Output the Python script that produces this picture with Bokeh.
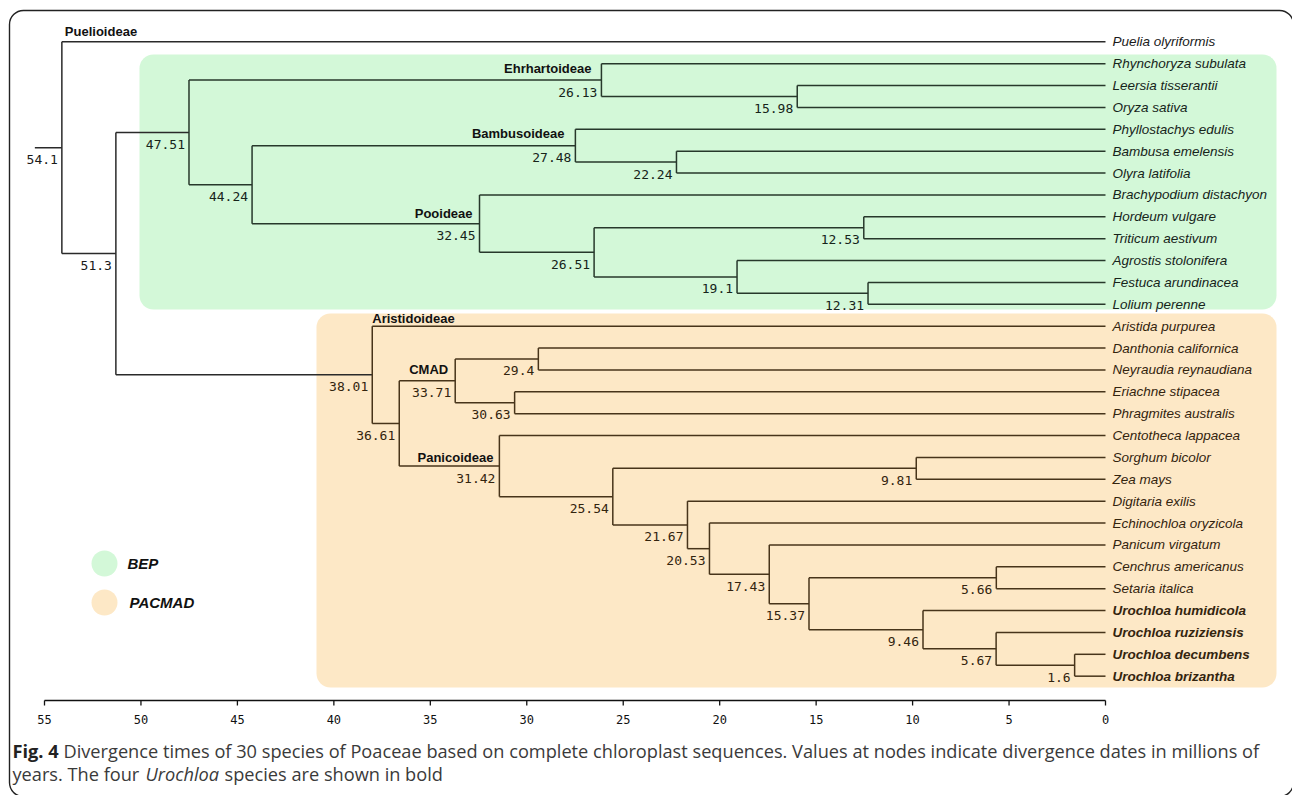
from bokeh.plotting import figure
from bokeh.models import Range1d, ColumnDataSource
from bokeh.core.properties import value
from bokeh.embed import file_html
from bokeh.resources import INLINE

# ---------------- data ----------------
species = [
    "Puelia olyriformis", "Rhynchoryza subulata", "Leersia tisserantii", "Oryza sativa",
    "Phyllostachys edulis", "Bambusa emelensis", "Olyra latifolia", "Brachypodium distachyon",
    "Hordeum vulgare", "Triticum aestivum", "Agrostis stolonifera", "Festuca arundinacea",
    "Lolium perenne", "Aristida purpurea", "Danthonia californica", "Neyraudia reynaudiana",
    "Eriachne stipacea", "Phragmites australis", "Centotheca lappacea", "Sorghum bicolor",
    "Zea mays", "Digitaria exilis", "Echinochloa oryzicola", "Panicum virgatum",
    "Cenchrus americanus", "Setaria italica", "Urochloa humidicola", "Urochloa ruziziensis",
    "Urochloa decumbens", "Urochloa brizantha",
]
bold_species = ["Urochloa humidicola", "Urochloa ruziziensis", "Urochloa decumbens", "Urochloa brizantha"]

node_ids = ["root", "n51", "BEP", "Ehr", "Ory", "n44", "Bam", "Bam2", "Poo", "Poo2", "Trit",
            "Poeae", "FesLol", "PACMAD", "n36", "CMAD", "Dan", "Eri", "Pan", "n25", "Sor",
            "n21", "n20", "n17", "n15", "Cen", "n9", "n5", "n1"]
node_ages = [54.1, 51.3, 47.51, 26.13, 15.98, 44.24, 27.48, 22.24, 32.45, 26.51, 12.53,
             19.1, 12.31, 38.01, 36.61, 33.71, 29.4, 30.63, 31.42, 25.54, 9.81,
             21.67, 20.53, 17.43, 15.37, 5.66, 9.46, 5.67, 1.6]
node_children = [
    ["Puelia olyriformis", "n51"],
    ["BEP", "PACMAD"],
    ["Ehr", "n44"],
    ["Rhynchoryza subulata", "Ory"],
    ["Leersia tisserantii", "Oryza sativa"],
    ["Bam", "Poo"],
    ["Phyllostachys edulis", "Bam2"],
    ["Bambusa emelensis", "Olyra latifolia"],
    ["Brachypodium distachyon", "Poo2"],
    ["Trit", "Poeae"],
    ["Hordeum vulgare", "Triticum aestivum"],
    ["Agrostis stolonifera", "FesLol"],
    ["Festuca arundinacea", "Lolium perenne"],
    ["Aristida purpurea", "n36"],
    ["CMAD", "Pan"],
    ["Dan", "Eri"],
    ["Danthonia californica", "Neyraudia reynaudiana"],
    ["Eriachne stipacea", "Phragmites australis"],
    ["Centotheca lappacea", "n25"],
    ["Sor", "n21"],
    ["Sorghum bicolor", "Zea mays"],
    ["Digitaria exilis", "n20"],
    ["Echinochloa oryzicola", "n17"],
    ["Panicum virgatum", "n15"],
    ["Cen", "n9"],
    ["Cenchrus americanus", "Setaria italica"],
    ["Urochloa humidicola", "n5"],
    ["Urochloa ruziziensis", "n1"],
    ["Urochloa decumbens", "Urochloa brizantha"],
]

clade_names = ["Puelioideae", "Ehrhartoideae", "Bambusoideae", "Pooideae", "Aristidoideae", "CMAD", "Panicoideae"]
clade_anchor = ["Puelia olyriformis", "Ehr", "Bam", "Poo", "Aristida purpurea", "CMAD", "Pan"]

group_names = ["BEP", "PACMAD"]
group_nodes = ["BEP", "PACMAD"]

tick_values = [55, 50, 45, 40, 35, 30, 25, 20, 15, 10, 5, 0]
tick_labels = [str(t) for t in tick_values]

caption_bold = "Fig. 4"
caption_line1 = "Divergence times of 30 species of Poaceae based on complete chloroplast sequences. Values at nodes indicate divergence dates in millions of"
caption_line2a = "years. The four"
caption_line2_italic = "Urochloa"
caption_line2b = "species are shown in bold"

# ---------------- styles ----------------
GROUP_FILL = {"BEP": "#d3f8d8", "PACMAD": "#fde8c6"}
GROUP_LINE = {"BEP": "#27382b", "PACMAD": "#47341a", None: "#2a2a2a"}
GROUP_TEXT = {"BEP": "#16241a", "PACMAD": "#33240e", None: "#1a1a1a"}
SANS = value("Liberation Sans")
MONO = value("DejaVu Sans Mono")
CAP = value("Open Sans")
CAP_SIZE = "18.2px"

# pixel -> data helpers (layout only)
S = 19.2909      # px per Myr
RS = 21.875      # px per row
def rx(px):
    return 55 - (px - 44) / S
def ry(py):
    return (py - 41.3) / RS

W, H = 1292, 795
p = figure(width=W, height=H, output_backend="svg", toolbar_location=None,
           x_range=Range1d(rx(0), rx(W)), y_range=Range1d(ry(H), ry(0)),
           min_border=0, background_fill_color="white", border_fill_color="white")
p.axis.visible = False
p.grid.visible = False
p.outline_line_color = None

# ---------------- tree layout ----------------
age = dict(zip(node_ids, node_ages))
kids = dict(zip(node_ids, node_children))
for s in species:
    age[s] = 0.0
ypos = {s: float(i) for i, s in enumerate(species)}
parent = {}
for n, ch in kids.items():
    for c in ch:
        parent[c] = n

def get_y(n):
    if n in ypos:
        return ypos[n]
    ys = [get_y(c) for c in kids[n]]
    ypos[n] = sum(ys) / len(ys)
    return ypos[n]
get_y("root")

group_of = {}
def mark(n, g):
    group_of[n] = g
    for c in kids.get(n, []):
        mark(c, g)
for g, gn in zip(group_names, group_nodes):
    mark(gn, g)

# ---------------- background boxes ----------------
box_px = {"BEP": (139, 1276, 54, 309), "PACMAD": (316, 1276, 313, 687)}
for g in group_names:
    l, r, t, b = box_px[g]
    p.quad(left=rx(l), right=rx(r), top=ry(t), bottom=ry(b), fill_color=GROUP_FILL[g],
           line_color=None, border_radius=14)

# outer frame
p.quad(left=rx(9), right=rx(1293), top=ry(10), bottom=ry(796), fill_color=None,
       line_color="#222222", line_width=1.4, border_radius=14)

# ---------------- branches ----------------
x0s, x1s, y0s, y1s, cols = [], [], [], [], []
for n in node_ids:
    g = group_of.get(n)
    ch = kids[n]
    cy = [ypos[c] for c in ch]
    x0s.append(age[n]); x1s.append(age[n]); y0s.append(min(cy)); y1s.append(max(cy)); cols.append(GROUP_LINE[g])
    for c in ch:
        x0s.append(age[n]); x1s.append(age[c]); y0s.append(ypos[c]); y1s.append(ypos[c]); cols.append(GROUP_LINE[g])
# root stem
x0s.append(age["root"] + 1.4); x1s.append(age["root"]); y0s.append(ypos["root"]); y1s.append(ypos["root"]); cols.append(GROUP_LINE[None])
p.segment(x0=x0s, x1=x1s, y0=y0s, y1=y1s, line_color=cols, line_width=1.5)

# ---------------- tip labels ----------------
tip_src = ColumnDataSource(dict(
    x=[0.0] * len(species), y=[ypos[s] for s in species], text=species,
    color=[GROUP_TEXT[group_of.get(s)] for s in species],
    style=["bold italic" if s in bold_species else "italic" for s in species]))
p.text(x="x", y="y", text="text", source=tip_src, text_color="color", text_font_style="style",
       text_font=SANS, text_font_size="13.5px", text_align="left", text_baseline="middle", x_offset=7)

# ---------------- node age labels ----------------
nl_src = ColumnDataSource(dict(
    x=[age[n] for n in node_ids], y=[ypos[n] for n in node_ids],
    text=[("%g" % age[n]) for n in node_ids],
    color=[GROUP_TEXT[group_of.get(n)] for n in node_ids]))
p.text(x="x", y="y", text="text", source=nl_src, text_color="color", text_font=MONO,
       text_font_size="13px", text_align="right", text_baseline="middle", x_offset=-4, y_offset=12)

# ---------------- clade labels ----------------
clade_off = {"Puelioideae": (3, -10), "Ehrhartoideae": (-10, -12), "Bambusoideae": (-11, -12),
             "Pooideae": (-7, -10), "Aristidoideae": (0, -8), "CMAD": (-7, -11), "Panicoideae": (-6, -9)}
for name, anc in zip(clade_names, clade_anchor):
    is_tip = anc in species
    cx = age[parent[anc]] if is_tip else age[anc]
    dx, dy = clade_off[name]
    p.text(x=[cx], y=[ypos[anc]], text=[name], text_font=SANS, text_font_style="bold",
           text_font_size="13px", text_color="#111111", text_align="left" if is_tip else "right",
           text_baseline="middle", x_offset=dx, y_offset=dy)

# ---------------- legend ----------------
leg_y = [ry(563), ry(602)]
p.scatter(x=[rx(104)] * 2, y=leg_y, size=26, marker="circle",
          fill_color=[GROUP_FILL[g] for g in group_names], line_color=None)
p.text(x=[rx(127), rx(129)], y=leg_y, text=group_names, text_font=SANS, text_font_style="bold italic",
       text_font_size="15px", text_color="#111111", text_align="left", text_baseline="middle")

# ---------------- axis ----------------
ay = ry(700)
p.segment(x0=[tick_values[0]], x1=[tick_values[-1]], y0=[ay], y1=[ay], line_color="#111111", line_width=1.3)
p.segment(x0=tick_values, x1=tick_values, y0=[ay] * len(tick_values), y1=[ry(705)] * len(tick_values),
          line_color="#111111", line_width=1.3)
p.text(x=tick_values, y=[ry(719)] * len(tick_values), text=tick_labels, text_font=MONO,
       text_font_size="12px", text_color="#111111", text_align="center", text_baseline="middle")

# ---------------- caption ----------------
c1, c2 = ry(750), ry(773)
p.text(x=[rx(12)], y=[c1], text=[caption_bold], text_font=CAP, text_font_style="bold",
       text_font_size=CAP_SIZE, text_color="#222222", text_align="left", text_baseline="middle")
p.text(x=[rx(63)], y=[c1], text=[caption_line1], text_font=CAP,
       text_font_size=CAP_SIZE, text_color="#3a3a3a", text_align="left", text_baseline="middle")
p.text(x=[rx(12)], y=[c2], text=[caption_line2a], text_font=CAP,
       text_font_size=CAP_SIZE, text_color="#3a3a3a", text_align="left", text_baseline="middle")
p.text(x=[rx(145)], y=[c2], text=[caption_line2_italic], text_font=CAP, text_font_style="italic",
       text_font_size=CAP_SIZE, text_color="#3a3a3a", text_align="left", text_baseline="middle")
p.text(x=[rx(224)], y=[c2], text=[caption_line2b], text_font=CAP,
       text_font_size=CAP_SIZE, text_color="#3a3a3a", text_align="left", text_baseline="middle")

open("out.html", "w").write(file_html(p, INLINE))
